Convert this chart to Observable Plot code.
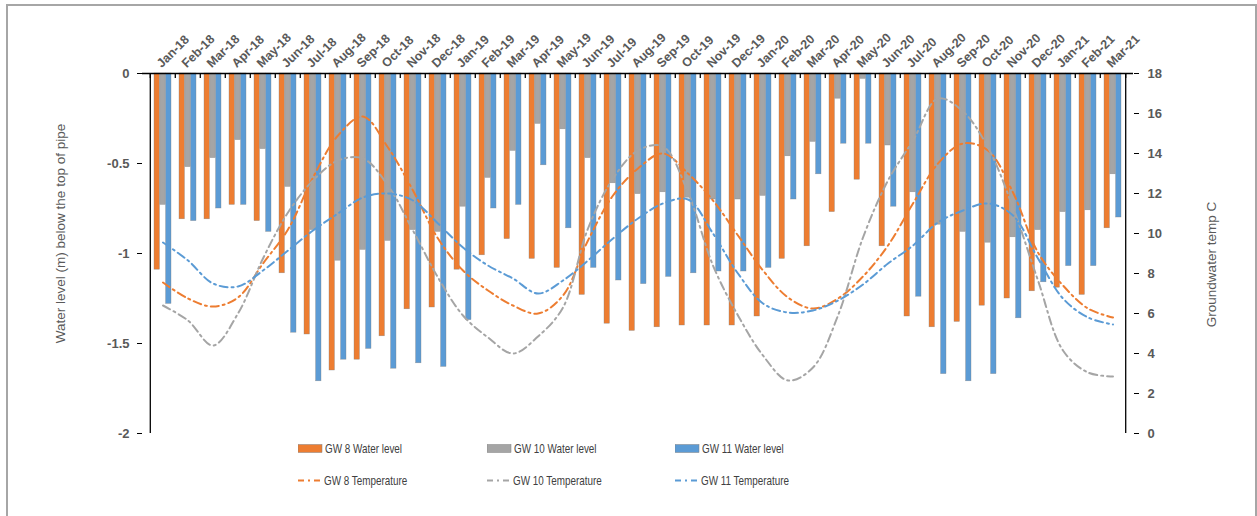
<!DOCTYPE html>
<html><head><meta charset="utf-8">
<script src="https://cdn.jsdelivr.net/npm/d3@7"></script>
<script src="https://cdn.jsdelivr.net/npm/@observablehq/plot@0.6"></script>
<style>
html,body{margin:0;padding:0;background:#fff;}
#wrap{position:relative;width:1257px;height:516px;overflow:hidden;}
#border{position:absolute;left:6px;top:4px;width:1251px;height:520px;box-sizing:border-box;border:2px solid #a6a6a6;pointer-events:none;}
#chart{position:absolute;left:0;top:0;}
.item{position:absolute;display:flex;align-items:center;height:16px;font-family:"Liberation Sans",Arial,sans-serif;font-size:13px;color:#404040;white-space:nowrap;}
.item svg{display:block;margin-right:2px;flex:none;}
.item span{display:inline-block;transform:scaleX(0.76);transform-origin:left center;}
</style></head><body>
<div id="wrap"><div id="chart"></div><div id="legend"></div><div id="border"></div></div>
<script>
const months = ["Jan-18","Feb-18","Mar-18","Apr-18","May-18","Jun-18","Jul-18","Aug-18","Sep-18","Oct-18","Nov-18","Dec-18",
  "Jan-19","Feb-19","Mar-19","Apr-19","May-19","Jun-19","Jul-19","Aug-19","Sep-19","Oct-19","Nov-19","Dec-19",
  "Jan-20","Feb-20","Mar-20","Apr-20","May-20","Jun-20","Jul-20","Aug-20","Sep-20","Oct-20","Nov-20","Dec-20",
  "Jan-21","Feb-21","Mar-21"];
const gw8Level  = [-1.09,-0.81,-0.81,-0.73,-0.82,-1.11,-1.45,-1.65,-1.59,-1.46,-1.31,-1.30,
  -1.09,-1.01,-0.92,-1.03,-1.08,-1.23,-1.39,-1.43,-1.41,-1.40,-1.40,-1.40,
  -1.35,-1.03,-0.96,-0.77,-0.59,-0.96,-1.35,-1.41,-1.38,-1.29,-1.25,-1.21,
  -1.19,-1.23,-0.86];
const gw10Level = [-0.73,-0.52,-0.47,-0.37,-0.42,-0.63,-0.87,-1.04,-0.98,-0.93,-0.87,-0.88,
  -0.74,-0.58,-0.43,-0.28,-0.31,-0.47,-0.61,-0.67,-0.66,-0.69,-0.70,-0.70,
  -0.68,-0.46,-0.38,-0.14,-0.03,-0.40,-0.66,-0.84,-0.88,-0.94,-0.91,-0.87,
  -0.77,-0.76,-0.56];
const gw11Level = [-1.28,-0.82,-0.75,-0.73,-0.88,-1.44,-1.71,-1.59,-1.53,-1.64,-1.61,-1.63,
  -1.37,-0.75,-0.73,-0.51,-0.86,-1.08,-1.15,-1.17,-1.13,-1.11,-1.10,-1.10,
  -1.08,-0.70,-0.56,-0.39,-0.39,-0.74,-1.24,-1.67,-1.71,-1.67,-1.36,-1.16,
  -1.07,-1.07,-0.80];
const gw8Temp  = [7.55,6.75,6.35,6.8,8.5,10.2,12.8,14.9,15.85,14.3,12.15,9.75,
  8.15,7.15,6.4,6.0,6.9,9.65,11.9,13.25,14.0,13.0,11.65,9.9,
  8.15,6.8,6.25,6.75,7.85,9.4,11.5,13.5,14.5,14.15,12.05,9.05,
  7.4,6.25,5.8];
const gw10Temp = [6.4,5.65,4.4,6.0,8.75,11.05,12.65,13.65,13.75,12.4,10.15,7.8,
  5.9,4.8,4.0,4.85,6.3,10.25,12.75,14.15,14.35,12.05,8.4,5.9,
  3.9,2.65,3.3,5.9,9.8,12.65,14.65,16.75,16.1,14.3,11.3,7.65,
  4.15,3.05,2.85];
const gw11Temp = [9.55,8.65,7.5,7.35,8.15,9.15,10.15,11.0,11.8,12.0,11.65,10.5,
  9.3,8.4,7.75,7.0,7.65,8.65,9.75,10.75,11.5,11.7,10.0,8.0,
  6.5,6.05,6.15,6.65,7.45,8.5,9.4,10.55,11.15,11.5,10.9,8.75,
  6.75,5.8,5.45];
const levelTicks = [-2,-1.5,-1,-0.5,0];
const tempTicks = [0,2,4,6,8,10,12,14,16,18];
const series = [
  {level: "GW 8 Water level",  temp: "GW 8 Temperature",  color: "#ED7D31", levels: gw8Level,  temps: gw8Temp},
  {level: "GW 10 Water level", temp: "GW 10 Temperature", color: "#A5A5A5", levels: gw10Level, temps: gw10Temp},
  {level: "GW 11 Water level", temp: "GW 11 Temperature", color: "#5B9BD5", levels: gw11Level, temps: gw11Temp}
];
const leftTitle = "Water level (m) below the top of pipe";
const rightTitle = "Groundwater temp C";

// temperature (0..18) shares the y scale of the water level (-2..0)
const toY = t => t / 9 - 2;
const fromY = y => Math.round((y + 2) * 9);

const W = 1257, H = 440, ML = 142, MR = 124, MT = 73, MB = 7;
const bw = (W - ML - MR) / months.length;
const barW = 5.8;
const groupW = barW * 3;
const lead = (bw - groupW) / 2;
const font = '"Liberation Sans",Arial,sans-serif';
const dash = "8,4,2,4";

const marks = [];
series.forEach((s, k) => {
  const left = lead + k * barW;
  marks.push(Plot.barY(s.levels, {
    x: (d, i) => months[i], y1: 0, y2: d => d,
    fill: s.color, stroke: "#808080", strokeWidth: 0.5, strokeOpacity: 0.7,
    insetLeft: left, insetRight: bw - left - barW
  }));
});
series.forEach(s => {
  marks.push(Plot.line(s.temps, {
    x: (d, i) => months[i], y: d => toY(d),
    stroke: s.color, strokeWidth: 2, strokeDasharray: dash, curve: "catmull-rom"
  }));
});
marks.push(
  Plot.ruleY([0], {stroke: "#000", strokeWidth: 1.5}),
  Plot.ruleX(months, {x: d => d, y1: 0, y2: 0, dx: -bw / 2, insetBottom: -5, stroke: "#000", strokeWidth: 1.3}),
  Plot.ruleX([months[months.length - 1]], {x: d => d, y1: 0, y2: 0, dx: bw / 2, insetBottom: -5, stroke: "#000", strokeWidth: 1.3}),
  Plot.ruleX([months[0]], {x: d => d, y1: -2, y2: 0, dx: -bw / 2, stroke: "#000", strokeWidth: 1.3}),
  Plot.ruleX([months[months.length - 1]], {x: d => d, y1: -2, y2: 0, dx: bw / 2, stroke: "#000", strokeWidth: 1.3}),
  Plot.axisX({anchor: "top", tickSize: 0, tickRotate: -45, tickPadding: 8, dx: -4, fontSize: 12.5, fontWeight: "bold", fill: "#595959", label: null}),
  Plot.axisY({anchor: "left", ticks: levelTicks, tickFormat: d => String(d), tickSize: 5, tickPadding: 8,
    stroke: "#000", fill: "#595959", fontSize: 13, fontWeight: "bold", label: null}),
  Plot.axisY({anchor: "right", ticks: tempTicks.map(toY), tickFormat: d => String(fromY(d)), tickSize: 5, tickPadding: 9,
    stroke: "#000", fill: "#595959", fontSize: 13, fontWeight: "bold", label: null}),
  Plot.text([leftTitle], {frameAnchor: "left", textAnchor: "middle", rotate: -90, dx: -82, dy: -20, fontSize: 13.5, fill: "#595959"}),
  Plot.text([rightTitle], {frameAnchor: "right", textAnchor: "middle", rotate: -90, dx: 78, dy: 11, fontSize: 13.5, fill: "#595959"})
);

const chart = Plot.plot({
  width: W, height: H,
  marginLeft: ML, marginRight: MR, marginTop: MT, marginBottom: MB,
  style: {fontFamily: font, background: "#fff", overflow: "visible"},
  x: {type: "band", domain: months, padding: 0},
  y: {domain: [-2, 0]},
  marks
});
document.getElementById("chart").appendChild(chart);

// legend
const legend = document.getElementById("legend");
const cols = [298, 487, 675];
series.forEach((s, k) => {
  const a = document.createElement("div");
  a.className = "item";
  a.style.left = cols[k] + "px"; a.style.top = "440px";
  a.innerHTML = `<svg width="25" height="9"><rect x="0" y="0.5" width="24" height="8" fill="${s.color}" stroke="#808080" stroke-width="0.5"/></svg><span></span>`;
  a.querySelector("span").textContent = s.level;
  legend.appendChild(a);
  const b = document.createElement("div");
  b.className = "item";
  b.style.left = cols[k] + "px"; b.style.top = "472px";
  b.innerHTML = `<svg width="24" height="9"><line x1="0" x2="24" y1="4.5" y2="4.5" stroke="${s.color}" stroke-width="2" stroke-dasharray="6,4,2,4"/></svg><span></span>`;
  b.querySelector("span").textContent = s.temp;
  legend.appendChild(b);
});
</script>
</body></html>
